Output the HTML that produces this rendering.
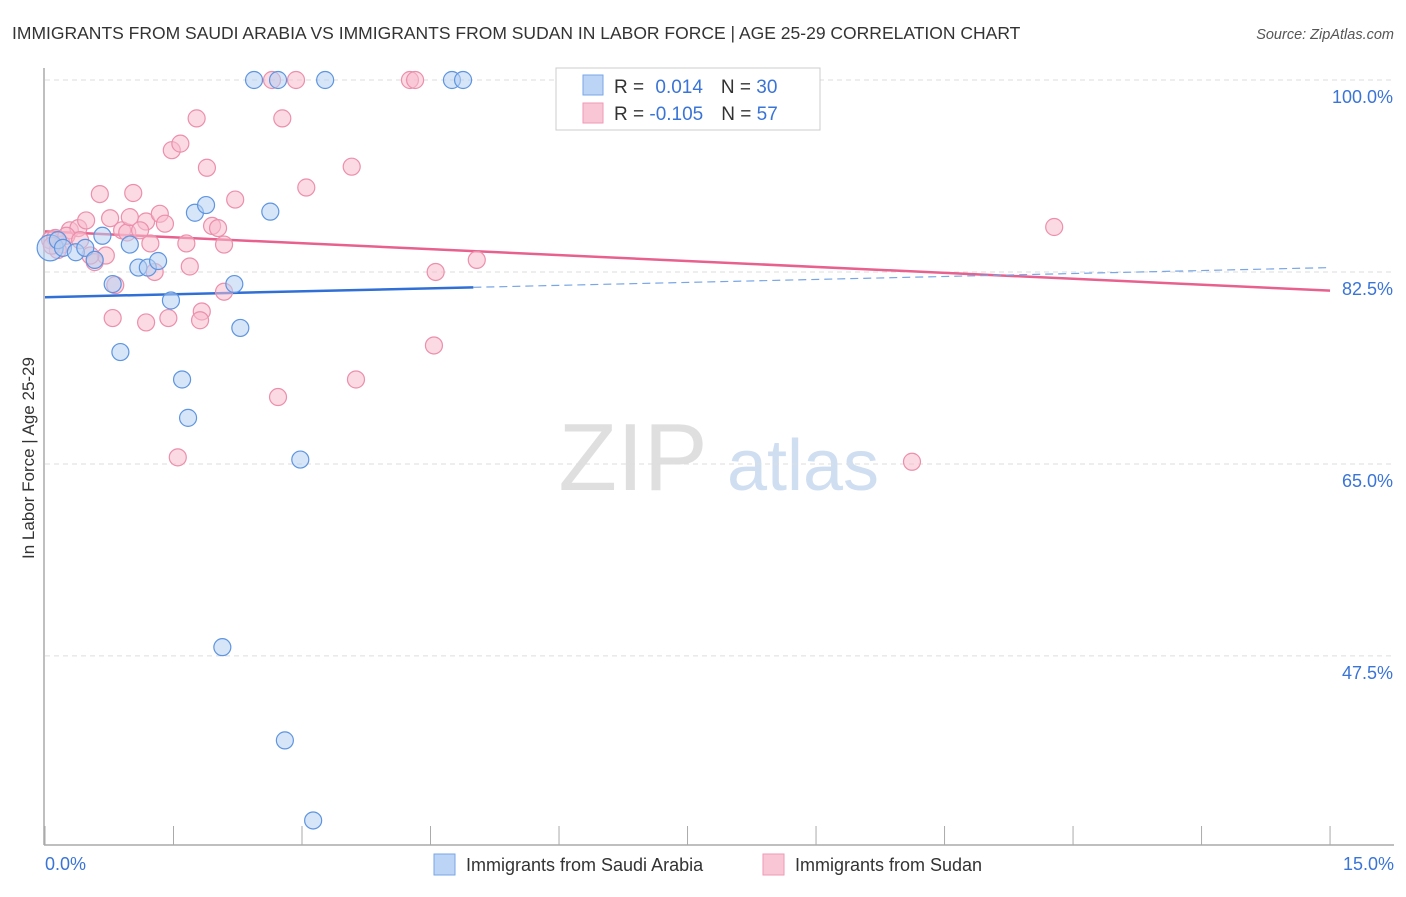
<!DOCTYPE html>
<html><head><meta charset="utf-8"><style>
body{margin:0;background:#fff;font-family:"Liberation Sans",sans-serif}
svg text{font-family:"Liberation Sans",sans-serif}
</style></head><body>
<svg id="chart" width="1406" height="892" viewBox="0 0 1406 892">
<text x="12" y="39" font-size="17.5" fill="#333">IMMIGRANTS FROM SAUDI ARABIA VS IMMIGRANTS FROM SUDAN IN LABOR FORCE | AGE 25-29 CORRELATION CHART</text>
<text x="1394" y="39" font-size="14.5" fill="#555" font-style="italic" text-anchor="end">Source: ZipAtlas.com</text>
<text x="34" y="458" font-size="17" fill="#333" text-anchor="middle" transform="rotate(-90 34 458)">In Labor Force | Age 25-29</text>
<g><text x="633" y="490" font-size="96" fill="#d8d8d8" font-family="Liberation Serif" text-anchor="middle" opacity="0.8">ZIP</text><text x="803" y="490" font-size="72" fill="#c5d6ee" text-anchor="middle" opacity="0.8">atlas</text></g>
<g id="grid"></g><g id="axes"></g><g id="lines"></g><g id="pts"></g>
<g>
<rect x="556" y="68" width="264" height="62" fill="#fff" stroke="#ccc"/>
<rect x="583" y="75" width="20" height="20" fill="#bcd4f5" stroke="#7aa6e6"/>
<rect x="583" y="103" width="20" height="20" fill="#f9c6d5" stroke="#ef9ab4"/>
<text x="614" y="93" font-size="19" fill="#333">R = <tspan fill="#3a74d6" dx="6">0.014</tspan><tspan dx="18">N = </tspan><tspan fill="#3a74d6">30</tspan></text>
<text x="614" y="120" font-size="19" fill="#333">R = <tspan fill="#3a74d6">-0.105</tspan><tspan dx="18">N = </tspan><tspan fill="#3a74d6">57</tspan></text>
</g>
<g>
<rect x="434" y="854" width="21" height="21" fill="#bcd4f5" stroke="#7aa6e6"/>
<text x="466" y="871" font-size="18" fill="#333">Immigrants from Saudi Arabia</text>
<rect x="763" y="854" width="21" height="21" fill="#f9c6d5" stroke="#ef9ab4"/>
<text x="795" y="871" font-size="18" fill="#333">Immigrants from Sudan</text>
</g>
</svg>
<script>
const yTicks=[100,82.5,65,47.5];
const yTickLabels=["100.0%","82.5%","65.0%","47.5%"];
const xEndLabels=["0.0%","15.0%"];
const blueX=[.06,.15,.21,.36,.47,.58,.67,.79,.99,1.09,1.2,1.32,1.47,.88,1.6,1.67,1.75,1.88,2.21,2.28,2.63,2.98,2.44,2.72,3.27,4.75,4.88,2.07,2.8,3.13];
const blueY=[84.7,85.4,84.7,84.3,84.7,83.6,85.8,81.4,85,82.9,82.9,83.5,79.9,75.2,72.7,69.2,87.9,88.6,81.4,77.4,88,65.4,100,100,100,100,100,48.3,39.8,32.5];
const pinkX=[.06,.12,.2,.29,.39,.48,.58,.64,.71,.76,.79,.82,.9,.96,1.03,.99,1.18,1.18,1.23,1.28,1.34,1.4,1.44,1.48,1.58,1.55,1.65,1.69,1.77,1.83,1.81,1.89,1.95,2.02,2.09,2.09,2.22,2.65,2.72,2.77,2.93,3.05,3.58,3.63,4.26,4.32,4.54,4.56,5.04,10.12,11.78,.15,.25,.41,.53,1.11,.08];
const pinkY=[85.4,85.6,85,86.3,86.5,87.2,83.4,89.6,84,87.4,78.3,81.3,86.3,86.1,89.7,87.5,77.9,87.1,85.1,82.5,87.8,86.9,78.3,93.6,94.2,65.6,85.1,83,96.5,78.9,78.1,92,86.7,86.5,85,80.7,89.1,100,71.1,96.5,100,90.2,92.1,72.7,100,100,75.8,82.5,83.6,65.2,86.6,84.5,85.8,85.4,84,86.3,84.9];
const blueTrend=[80.2,81.1,82.9]; // at x=0, 5, 15
const blueTrendX=[0,5,15];
const pinkTrend=[86.2,80.8];
const pinkTrendX=[0,15];
const NS="http://www.w3.org/2000/svg";
const X=v=>45+v*85.67, Y=v=>80+(100-v)*10.97;
function mk(tag,attrs,parent){const e=document.createElementNS(NS,tag);for(const k in attrs)e.setAttribute(k,attrs[k]);parent.appendChild(e);return e;}
const grid=document.getElementById('grid'),axes=document.getElementById('axes'),lines=document.getElementById('lines'),pts=document.getElementById('pts');
yTicks.forEach((t,i)=>{
 const l=mk('line',{x1:45,x2:1394,y1:Y(t),y2:Y(t),stroke:'#ddd','stroke-dasharray':'5,4'},grid);
 
 
 const tx=mk('text',{x:1393,y:Y(t)+23,'font-size':18,fill:'#3a74d6','text-anchor':'end'},grid);
 tx.textContent=yTickLabels[i];
 
 
});
let ax=mk('line',{x1:44,x2:44,y1:68,y2:845,stroke:'#aaa','stroke-width':1.5},axes);


let bx=mk('line',{x1:44,x2:1394,y1:845,y2:845,stroke:'#aaa','stroke-width':1.5},axes);


for(let i=0;i<=10;i++){const tk=mk('line',{x1:X(i*1.5),x2:X(i*1.5),y1:826,y2:845,stroke:'#aaa'},axes);
 
 }
[[0,'start',45],[15,'end',1394]].forEach((a,i)=>{const t=mk('text',{x:a[2],y:870,'font-size':18,fill:'#3a74d6','text-anchor':a[1]},axes);t.textContent=xEndLabels[i];
 
 });
function dot(x,y,fill,stroke,r){const c=mk('circle',{cx:X(x),cy:Y(y),r:r,fill:fill,'fill-opacity':0.55,stroke:stroke,'stroke-width':1.2},pts);return c;}
pinkX.forEach((x,i)=>{const c=dot(x,pinkY[i],'#f7bccd','#ec8fac',8.5);
 
 });
blueX.forEach((x,i)=>{const c=dot(x,blueY[i],'#b5cff3','#5e95e0',i===0?13:8.5);
 
 });
let pl=mk('line',{x1:X(pinkTrendX[0]),y1:Y(pinkTrend[0]),x2:X(pinkTrendX[1]),y2:Y(pinkTrend[1]),stroke:'#e8608d','stroke-width':2.5},lines);


let bl=mk('line',{x1:X(blueTrendX[0]),y1:Y(blueTrend[0]),x2:X(blueTrendX[1]),y2:Y(blueTrend[1]),stroke:'#2f6fd6','stroke-width':2.5},lines);


let bd=mk('line',{x1:X(blueTrendX[1]),y1:Y(blueTrend[1]),x2:X(blueTrendX[2]),y2:Y(blueTrend[2]),stroke:'#7aa6e6','stroke-width':1.2,'stroke-dasharray':'8,5'},lines);


</script>
</body></html>
